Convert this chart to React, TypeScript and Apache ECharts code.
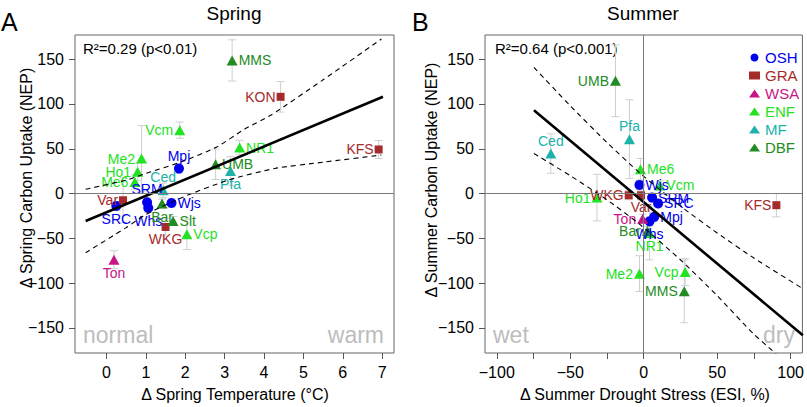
import React, { useEffect, useRef } from 'react';
import * as echarts from 'echarts';

const FONT = '"Liberation Sans", Arial, Helvetica, sans-serif';

// ---- data ----
const sites = ['MMS', 'KON', 'Vcm', 'NR1', 'KFS', 'Me2', 'Ho1', 'Me6', 'Mpj', 'UMB', 'Pfa', 'Ced', 'Var', 'SRC', 'SRM', 'Whs', 'Wjs', 'Bar', 'Slt', 'WKG', 'Vcp', 'Ton'];
const siteClass = ['DBF', 'GRA', 'ENF', 'ENF', 'GRA', 'ENF', 'ENF', 'ENF', 'OSH', 'DBF', 'MF', 'MF', 'GRA', 'OSH', 'OSH', 'OSH', 'OSH', 'DBF', 'DBF', 'GRA', 'ENF', 'WSA'];

const springTemp = [3.19, 4.42, 1.86, 3.38, 6.91, 0.89, 0.79, 0.72, 1.84, 2.77, 3.15, 1.44, 0.42, 0.25, 1.03, 1.06, 1.65, 1.41, 1.69, 1.5, 2.04, 0.19];
const springNEP = [148.6, 108, 70.8, 51.4, 49.2, 39, 24.2, 13, 27.9, 32.7, 25.3, 3.7, -7.5, -13.8, -9.7, -16, -10.5, -11.2, -30.6, -37.3, -45.5, -73.8];
const springErr = [23, 17, 9, 8, 10, 37, 10, 8, 5, 17, 16, 8, 25, 5, 5, 5, 5, 5, 5, 10, 17, 10];

const summerESI = [27.6, null, 11, 4, 90.3, -2.9, -31.8, -2.2, 7.2, -19.2, -9.7, -63.2, -1.8, 9.8, 5.7, 4, -2.9, 2.5, null, -10.2, 28.2, -0.7];
const summerNEP = [-109.2, null, 9, -44, -13, -89.4, -4.5, 27.2, -26, 125.9, 60.7, 44.7, -1.9, -11, -4.5, -31, 9.6, -41.8, null, -1.9, -87.6, -28];
const summerErr = [35, null, 5, 30, 13, 20, 26, 12, 5, 40, 44, 22, 5, 5, 5, 5, 5, 5, null, 5, 15, 5];

const springFitX = [-0.53, 7.02];
const springFitY = [-30.6, 108];
const springUpperX = [-0.53, 0.5, 0.97, 1.94, 2.8, 3.51, 4.19, 5.5, 6.98];
const springUpperY = [4.8, 15, 22, 36, 52, 72, 88, 127, 172.5];
const springLowerX = [-0.53, 0.5, 0.97, 1.94, 3.09, 4.27, 5.5, 6.98];
const springLowerY = [-66, -38, -24, -4, 15, 28, 35, 43];

const summerFitX = [-74.7, 108.3];
const summerFitY = [93.1, -158.3];
const summerUpperX = [-74.7, -50, -25, -2.2, 25, 50, 75, 108.3];
const summerUpperY = [140.8, 98, 57, 22.3, -14, -44, -72, -106.2];
const summerLowerX = [-74.7, -50, -25, -2.2, 25, 50, 75, 108.3];
const summerLowerY = [44.7, 20, -7, -35, -74, -114, -157, -205];

const classes = ['OSH', 'GRA', 'WSA', 'ENF', 'MF', 'DBF'];
const springTicks = [0, 1, 2, 3, 4, 5, 6, 7];
const summerTicks = [-100, -75, -50, -25, 0, 25, 50, 75, 100];
const summerTickLabels = [-100, -50, 0, 50, 100];
const nepTicks = [-150, -100, -50, 0, 50, 100, 150];

// ---- styles ----
const classColor: Record<string, string> = {
  OSH: '#0000ee', GRA: '#a52a2a', WSA: '#c71585', ENF: '#22e222', MF: '#20b2aa', DBF: '#228b22',
};
const classSymbol: Record<string, string> = {
  OSH: 'circle', GRA: 'rect', WSA: 'triangle', ENF: 'triangle', MF: 'triangle', DBF: 'triangle',
};
const classSize: Record<string, number | number[]> = {
  OSH: 10, GRA: 8, WSA: [11, 10], ENF: [11, 10], MF: [11, 10], DBF: [11, 10],
};
const springLabelPos: Record<string, string> = {
  MMS: 'right', KON: 'left', Vcm: 'left', NR1: 'right', KFS: 'left', Me2: 'left', Ho1: 'left', Me6: 'left',
  Mpj: 'top', UMB: 'right', Pfa: 'bottom', Ced: 'top', Var: 'left', SRC: 'bottom', SRM: 'top', Whs: 'bottom',
  Wjs: 'right', Bar: 'bottom', Slt: 'right', WKG: 'bottom', Vcp: 'right', Ton: 'bottom',
};
const summerLabelPos: Record<string, string> = {
  MMS: 'left', Vcm: 'right', NR1: 'bottom', KFS: 'left', Me2: 'left', Ho1: 'left', Me6: 'right',
  Mpj: 'right', UMB: 'left', Pfa: 'top', Ced: 'top', Var: 'bottom', SRC: 'right', SRM: 'right', Whs: 'bottom',
  Wjs: 'right', Bar: 'left', WKG: 'left', Vcp: 'left', Ton: 'left',
};

const fmtNum = (v: number) => (v < 0 ? '\u2212' + Math.abs(v) : String(v));

function panelSeries(
  idx: number,
  xs: (number | null)[], ys: (number | null)[], errs: (number | null)[],
  labelPos: Record<string, string>,
  fitX: number[], fitY: number[], upX: number[], upY: number[], loX: number[], loY: number[],
  zeroX: boolean,
) {
  const out: any[] = [];
  const idxs = sites.map((_, i) => i).filter((i) => xs[i] != null);
  out.push({
    type: 'custom',
    xAxisIndex: idx,
    yAxisIndex: idx,
    silent: true,
    z: 1,
    clip: true,
    encode: { x: 0, y: 1 },
    data: idxs.map((i) => [xs[i], ys[i], errs[i]]),
    renderItem: (params: any, api: any) => {
      const x = api.value(0), y = api.value(1), e = api.value(2);
      const t = api.coord([x, y + e]);
      const b = api.coord([x, y - e]);
      const hw = 4;
      const st = { stroke: '#cfcfcf', lineWidth: 1 };
      return {
        type: 'group',
        children: [
          { type: 'line', shape: { x1: t[0], y1: t[1], x2: b[0], y2: b[1] }, style: st },
          { type: 'line', shape: { x1: t[0] - hw, y1: t[1], x2: t[0] + hw, y2: t[1] }, style: st },
          { type: 'line', shape: { x1: b[0] - hw, y1: b[1], x2: b[0] + hw, y2: b[1] }, style: st },
        ],
      };
    },
  });
  const zeroData: any[] = [{ yAxis: 0 }];
  if (zeroX) zeroData.push({ xAxis: 0 });
  out.push({
    type: 'line',
    xAxisIndex: idx,
    yAxisIndex: idx,
    silent: true,
    z: 2,
    symbol: 'none',
    data: [],
    markLine: {
      silent: true,
      symbol: ['none', 'none'],
      label: { show: false },
      lineStyle: { color: '#7a7a7a', width: 1, type: 'solid' },
      data: zeroData,
    },
  });
  classes.forEach((c) => {
    out.push({
      type: 'scatter',
      name: c,
      xAxisIndex: idx,
      yAxisIndex: idx,
      symbol: classSymbol[c],
      symbolSize: classSize[c],
      itemStyle: { color: classColor[c], opacity: 1 },
      z: 3,
      emphasis: { disabled: true },
      label: {
        show: true,
        formatter: '{b}',
        fontSize: 14,
        lineHeight: 14,
        fontFamily: FONT,
        color: classColor[c],
        distance: 1,
      },
      data: idxs
        .filter((i) => siteClass[i] === c)
        .map((i) => ({ name: sites[i], value: [xs[i], ys[i]], label: { position: labelPos[sites[i]] } })),
    });
  });
  out.push({
    type: 'line', xAxisIndex: idx, yAxisIndex: idx, silent: true, z: 4, symbol: 'none',
    data: fitX.map((x, i) => [x, fitY[i]]),
    lineStyle: { color: '#000', width: 2.6 },
  });
  out.push({
    type: 'line', xAxisIndex: idx, yAxisIndex: idx, silent: true, z: 4, symbol: 'none', smooth: 0.2,
    data: upX.map((x, i) => [x, upY[i]]),
    lineStyle: { color: '#000', width: 1.1, type: [5, 4] },
  });
  out.push({
    type: 'line', xAxisIndex: idx, yAxisIndex: idx, silent: true, z: 4, symbol: 'none', smooth: 0.2,
    data: loX.map((x, i) => [x, loY[i]]),
    lineStyle: { color: '#000', width: 1.1, type: [5, 4] },
  });
  return out;
}

const tickStyle = { show: true, length: 6, inside: false, lineStyle: { color: '#555', width: 1 } };
const labelBase = { fontSize: 16, fontFamily: FONT, color: '#000' };

function buildOption(): any {
  const text = (t: string, x: number, y: number, size: number, color = '#000', align = 'left', rot = 0) => ({
    type: 'text',
    x, y, rotation: rot,
    style: { text: t, fontSize: size, fontFamily: FONT, fill: color, textAlign: align, textVerticalAlign: 'middle' },
    silent: true,
  });
  return {
    animation: false,
    backgroundColor: '#fff',
    grid: [
      { left: 75, top: 35, width: 319, height: 318, show: true, borderColor: '#666', borderWidth: 1, backgroundColor: 'transparent' },
      { left: 485, top: 35, width: 319, height: 318, show: true, borderColor: '#666', borderWidth: 1, backgroundColor: 'transparent' },
    ],
    xAxis: [
      {
        type: 'value', gridIndex: 0, min: -0.8, max: 7.3,
        axisLine: { show: false, onZero: false },
        axisTick: { ...tickStyle, customValues: springTicks },
        axisLabel: { ...labelBase, margin: 11, customValues: springTicks, formatter: fmtNum },
        splitLine: { show: false },
      },
      {
        type: 'value', gridIndex: 1, min: -108, max: 108,
        axisLine: { show: false, onZero: false },
        axisTick: { ...tickStyle, customValues: summerTicks },
        axisLabel: { ...labelBase, margin: 11, customValues: summerTickLabels, formatter: fmtNum },
        splitLine: { show: false },
      },
    ],
    yAxis: [0, 1].map((g) => ({
      type: 'value', gridIndex: g, min: -178, max: 177,
      axisLine: { show: false, onZero: false },
      axisTick: { ...tickStyle, customValues: nepTicks },
      axisLabel: { ...labelBase, margin: 11, customValues: nepTicks, formatter: fmtNum },
      splitLine: { show: false },
    })),
    legend: {
      left: 744, top: 45, orient: 'vertical', itemWidth: 11, itemHeight: 8, itemGap: 3,
      selectedMode: false,
      textStyle: { fontSize: 15, lineHeight: 15, fontFamily: FONT },
      data: classes.map((c) => ({ name: c, icon: classSymbol[c], textStyle: { color: classColor[c] } })),
    },
    graphic: [
      text('A', 1, 22, 25),
      text('B', 412, 22, 25),
      text('Spring', 234, 13, 19, '#000', 'center'),
      text('Summer', 643, 13, 19, '#000', 'center'),
      text('R\u00b2=0.29 (p<0.01)', 83, 48, 15),
      text('R\u00b2=0.64 (p<0.001)', 495, 48, 15),
      text('normal', 83, 335, 23, '#bdbdbd'),
      text('warm', 384, 335, 23, '#bdbdbd', 'right'),
      text('wet', 493, 335, 23, '#bdbdbd'),
      text('dry', 795, 335, 23, '#bdbdbd', 'right'),
      text('\u0394 Spring Temperature (\u00b0C)', 235, 394, 16, '#000', 'center'),
      text('\u0394 Summer Drought Stress (ESI, %)', 645, 394, 16, '#000', 'center'),
      text('\u0394 Spring Carbon Uptake (NEP)', 26, 178, 16, '#000', 'center', Math.PI / 2),
      text('\u0394 Summer Carbon Uptake (NEP)', 431, 180, 16, '#000', 'center', Math.PI / 2),
    ],
    series: [
      ...panelSeries(0, springTemp, springNEP, springErr, springLabelPos,
        springFitX, springFitY, springUpperX, springUpperY, springLowerX, springLowerY, false),
      ...panelSeries(1, summerESI, summerNEP, summerErr, summerLabelPos,
        summerFitX, summerFitY, summerUpperX, summerUpperY, summerLowerX, summerLowerY, true),
    ],
  };
}

export default function App() {
  const ref = useRef<HTMLDivElement>(null);
  useEffect(() => {
    if (!ref.current) return;
    const chart = echarts.init(ref.current, null, { renderer: 'svg', width: 807, height: 407 });
    chart.setOption(buildOption());
    return () => chart.dispose();
  }, []);
  return <div ref={ref} style={{ position: 'absolute', left: 0, top: 0, width: 807, height: 407 }} />;
}
